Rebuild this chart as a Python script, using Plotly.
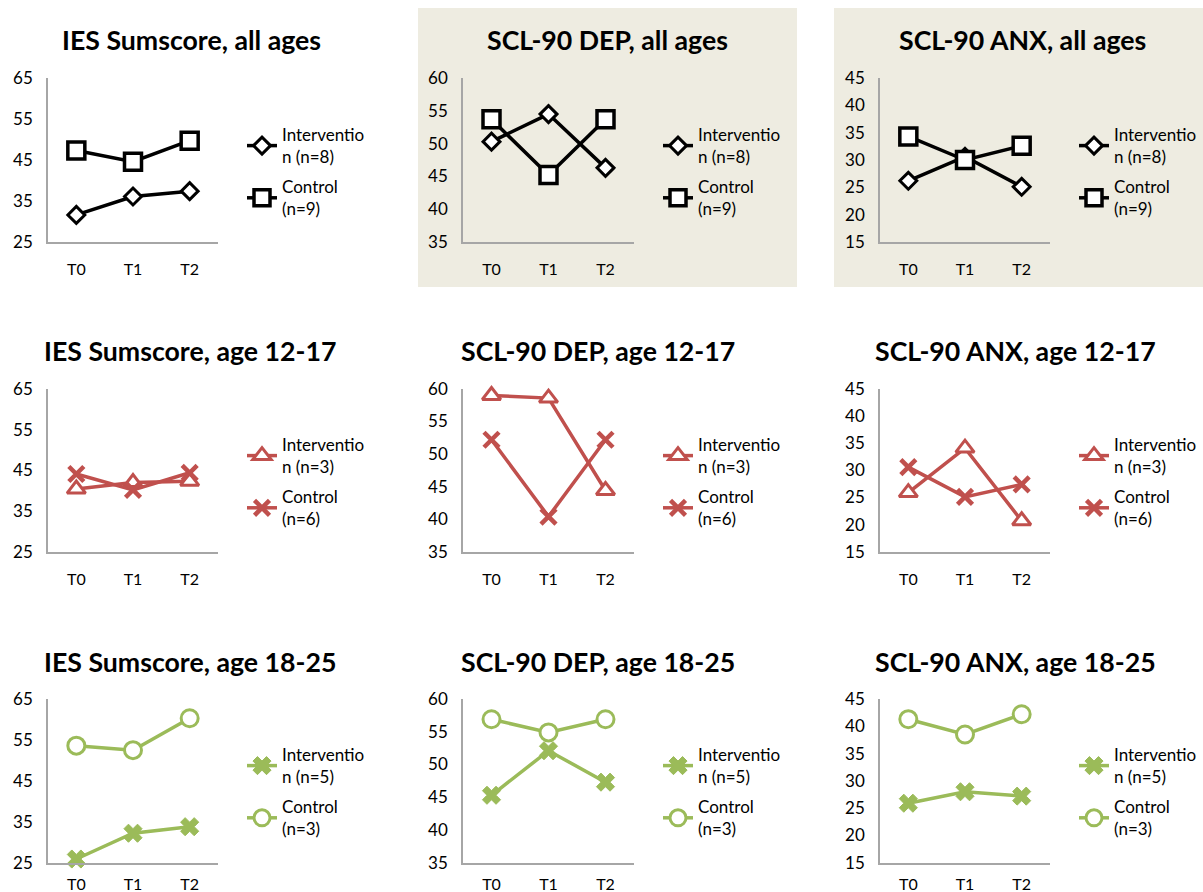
import plotly.graph_objects as go

W, H = 1203, 892
cats = ["T0", "T1", "T2"]

# Values per panel (row-major): intervention, control
ies_all_int = [31.6, 36.1, 37.4]
ies_all_ctl = [47.3, 44.6, 49.7]
dep_all_int = [50.3, 54.5, 46.3]
dep_all_ctl = [53.7, 45.2, 53.7]
anx_all_int = [26.2, 30.6, 25.1]
anx_all_ctl = [34.3, 30.0, 32.6]

ies_1217_int = [40.4, 42.0, 42.3]
ies_1217_ctl = [44.1, 40.2, 44.4]
dep_1217_int = [59.0, 58.6, 44.4]
dep_1217_ctl = [52.2, 40.4, 52.2]
anx_1217_int = [25.9, 34.1, 20.7]
anx_1217_ctl = [30.6, 25.1, 27.4]

ies_1825_int = [25.9, 32.2, 33.8]
ies_1825_ctl = [53.6, 52.5, 60.3]
dep_1825_int = [45.3, 52.1, 47.3]
dep_1825_ctl = [56.9, 54.9, 56.9]
anx_1825_int = [25.9, 28.0, 27.2]
anx_1825_ctl = [41.3, 38.5, 42.2]

titles = [
    ["IES Sumscore, all ages", "SCL-90 DEP, all ages", "SCL-90 ANX, all ages"],
    ["IES Sumscore, age 12-17", "SCL-90 DEP, age 12-17", "SCL-90 ANX, age 12-17"],
    ["IES Sumscore, age 18-25", "SCL-90 DEP, age 18-25", "SCL-90 ANX, age 18-25"],
]
int_names = ["Interventio<br>n (n=8)", "Interventio<br>n (n=3)", "Interventio<br>n (n=5)"]
ctl_names = ["Control<br>(n=9)", "Control<br>(n=6)", "Control<br>(n=3)"]

data = [
    [(ies_all_int, ies_all_ctl), (dep_all_int, dep_all_ctl), (anx_all_int, anx_all_ctl)],
    [(ies_1217_int, ies_1217_ctl), (dep_1217_int, dep_1217_ctl), (anx_1217_int, anx_1217_ctl)],
    [(ies_1825_int, ies_1825_ctl), (dep_1825_int, dep_1825_ctl), (anx_1825_int, anx_1825_ctl)],
]
y_ranges = [[25, 65, 10], [35, 60, 5], [15, 45, 5]]

row_colors = ["#000000", "#C0504D", "#9BBB59"]

FONT = "Lato"

# geometry in px
col_x = [(48, 218), (463, 634), (880, 1050)]
row_y = [(78, 242), (389, 551.7), (699, 862.7)]
x_standoff = [12, 12, 6]
title_cx = [[191, 607, 1022], [190, 598, 1015], [190, 598, 1015]]
title_cy = [40, 351, 662]
leg_x = [242, 658, 1074]
leg_top = [117, 427, 737]


def px2x(p):
    return p / W


def px2y(p):
    return 1 - p / H


fig = go.Figure()
layout = dict(
    template="none",
    width=W, height=H, margin=dict(l=0, r=0, t=0, b=0, pad=0, autoexpand=False),
    paper_bgcolor="white", plot_bgcolor="rgba(0,0,0,0)",
    font=dict(family=FONT, size=16, color="#000000"),
    annotations=[], shapes=[], hovermode=False,
)

# tan backgrounds on top middle and top right panels
for (x0, x1) in [(418, 797), (834, 1203)]:
    layout["shapes"].append(dict(
        type="rect", xref="paper", yref="paper", layer="below",
        x0=px2x(x0), x1=px2x(x1), y0=px2y(287), y1=px2y(8),
        fillcolor="#EEECE1", line=dict(width=0)))


def markers(r):
    c = row_colors[r]
    if r == 0:
        mi = dict(symbol="diamond", size=13, color="white", line=dict(color=c, width=3))
        mc = dict(symbol="square", size=17, color="white", line=dict(color=c, width=3.5))
    elif r == 1:
        mi = dict(symbol="triangle-up", size=16, color="white", line=dict(color=c, width=3))
        mc = dict(symbol="x-thin", size=15, color=c, line=dict(color=c, width=4.5))
    else:
        mi = dict(symbol="x", size=16, color=c, line=dict(color=c, width=1))
        mc = dict(symbol="circle", size=17, color="white", line=dict(color=c, width=3))
    return mi, mc


k = 0
for r in range(3):
    for c in range(3):
        k += 1
        sfx = "" if k == 1 else str(k)
        leg = "legend" if k == 1 else f"legend{k}"
        xa = dict(
            domain=[px2x(col_x[c][0]), px2x(col_x[c][1])],
            anchor=f"y{sfx}", type="category", range=[-0.5, 2.5],
            showgrid=False, zeroline=False, showline=True, automargin=False,
            linecolor="#A6A6A6", linewidth=1.5, ticks="",
            tickfont=dict(family=FONT, size=16, color="#000000"),
            ticklabelstandoff=x_standoff[r], fixedrange=True,
        )
        lo, hi, dt = y_ranges[c]
        ya = dict(
            domain=[px2y(row_y[r][1]), px2y(row_y[r][0])],
            anchor=f"x{sfx}", range=[lo, hi], dtick=dt, tick0=lo,
            showgrid=False, zeroline=False, showline=True, automargin=False,
            linecolor="#A6A6A6", linewidth=1.5, ticks="",
            tickfont=dict(family=FONT, size=17, color="#000000"),
            ticklabelstandoff=10, fixedrange=True,
        )
        layout[f"xaxis{sfx}"] = xa
        layout[f"yaxis{sfx}"] = ya

        yi, yc = data[r][c]
        mi, mc = markers(r)
        col = row_colors[r]
        fig.add_trace(go.Scatter(
            x=cats, y=yi, mode="lines+markers", name=int_names[r],
            line=dict(color=col, width=3.5), marker=mi, cliponaxis=False,
            xaxis=f"x{sfx}", yaxis=f"y{sfx}", legend=leg, legendgroup=f"i{k}"))
        fig.add_trace(go.Scatter(
            x=cats, y=yc, mode="lines+markers", name=ctl_names[r],
            line=dict(color=col, width=3.5), marker=mc, cliponaxis=False,
            xaxis=f"x{sfx}", yaxis=f"y{sfx}", legend=leg, legendgroup=f"c{k}"))

        layout[leg] = dict(
            x=px2x(leg_x[c]), y=px2y(leg_top[r]), xanchor="left", yanchor="top",
            bgcolor="rgba(0,0,0,0)", borderwidth=0,
            font=dict(family=FONT, size=17, color="#000000"),
            traceorder="grouped", tracegroupgap=5, itemwidth=30,
        )

        layout["annotations"].append(dict(
            text=f"<b>{titles[r][c]}</b>", xref="paper", yref="paper",
            x=px2x(title_cx[r][c]), y=px2y(title_cy[r]),
            xanchor="center", yanchor="middle", showarrow=False,
            font=dict(family=FONT, size=26.7, color="#000000")))

fig.update_layout(**layout)

post = (
    "document.body.style.margin='0';document.body.style.padding='0';"
    "document.documentElement.style.overflow='hidden';"
    "var gd=document.getElementById('{plot_id}');"
    "gd.style.position='absolute';gd.style.top='0px';gd.style.left='0px';"
)
fig.write_html("out.html", post_script=post, config={"displayModeBar": False})
